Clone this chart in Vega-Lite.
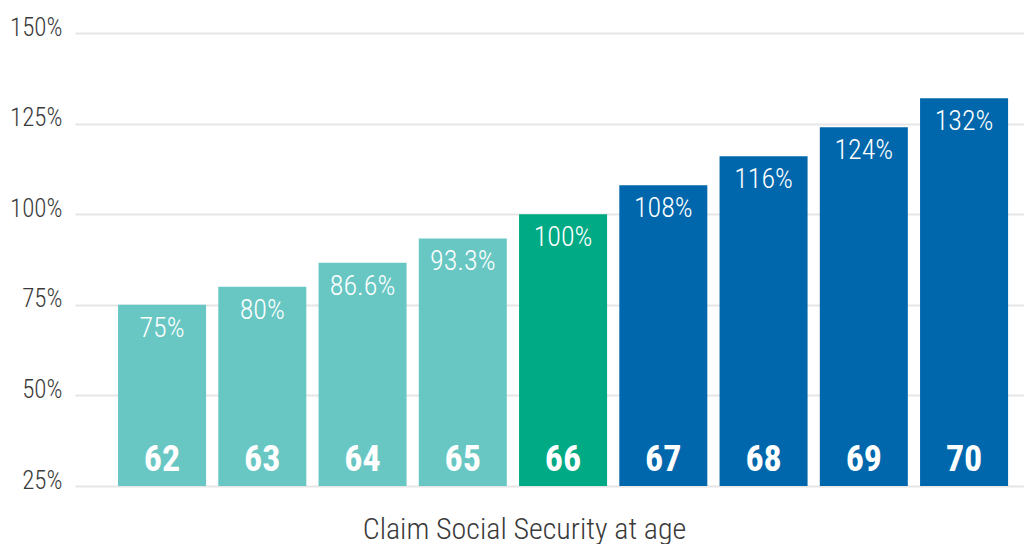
{
  "$schema": "https://vega.github.io/schema/vega-lite/v6.json",
  "width": 949,
  "height": 453,
  "autosize": "none",
  "padding": {"left": 75, "top": 33, "right": 0, "bottom": 58},
  "background": "white",
  "config": {
    "view": {"stroke": null},
    "font": "Roboto Condensed, Liberation Sans Narrow, DejaVu Sans Condensed, sans-serif"
  },
  "data": {
    "values": [
      {"age": "62", "value": 75, "label": "75%", "group": "early"},
      {"age": "63", "value": 80, "label": "80%", "group": "early"},
      {"age": "64", "value": 86.6, "label": "86.6%", "group": "early"},
      {"age": "65", "value": 93.3, "label": "93.3%", "group": "early"},
      {"age": "66", "value": 100, "label": "100%", "group": "full"},
      {"age": "67", "value": 108, "label": "108%", "group": "delayed"},
      {"age": "68", "value": 116, "label": "116%", "group": "delayed"},
      {"age": "69", "value": 124, "label": "124%", "group": "delayed"},
      {"age": "70", "value": 132, "label": "132%", "group": "delayed"}
    ]
  },
  "encoding": {
    "x": {
      "field": "age",
      "type": "ordinal",
      "sort": null,
      "scale": {"paddingInner": 0.122, "paddingOuter": 0.294, "align": 0.73},
      "axis": {
        "title": "Claim Social Security at age",
        "labels": false,
        "ticks": false,
        "domain": false,
        "titleFontSize": 30,
        "titleFontWeight": 300,
        "titleColor": "#3a3a3a",
        "titleX": 449,
        "titleY": 52,
        "titleBaseline": "alphabetic"
      }
    }
  },
  "layer": [
    {
      "mark": {"type": "bar"},
      "encoding": {
        "y": {
          "field": "value",
          "type": "quantitative",
          "scale": {"domain": [25, 150], "zero": false, "nice": false},
          "axis": {
            "title": null,
            "values": [25, 50, 75, 100, 125, 150],
            "labelExpr": "datum.value + '%'",
            "domain": false,
            "ticks": false,
            "labelPadding": 13,
            "labelFontSize": 25,
            "labelFontWeight": 300,
            "labelColor": "#3a3a3a",
            "labelBaseline": "alphabetic",
            "labelOffset": 2,
            "gridColor": "#e6e6e6",
            "gridWidth": 2
          }
        },
        "y2": {"datum": 25},
        "color": {
          "field": "group",
          "type": "nominal",
          "scale": {"domain": ["early", "full", "delayed"], "range": ["#68c7c3", "#00aa84", "#0067ac"]},
          "legend": null
        }
      }
    },
    {
      "mark": {"type": "text", "color": "white", "fontSize": 28, "fontWeight": 300, "baseline": "middle", "dy": 24},
      "encoding": {
        "y": {"field": "value", "type": "quantitative", "axis": {"title": null}},
        "text": {"field": "label"}
      }
    },
    {
      "mark": {"type": "text", "color": "white", "fontSize": 36, "fontWeight": "bold", "baseline": "alphabetic", "dy": -15},
      "encoding": {
        "y": {"datum": 25, "type": "quantitative", "axis": {"title": null}},
        "text": {"field": "age"}
      }
    }
  ]
}
